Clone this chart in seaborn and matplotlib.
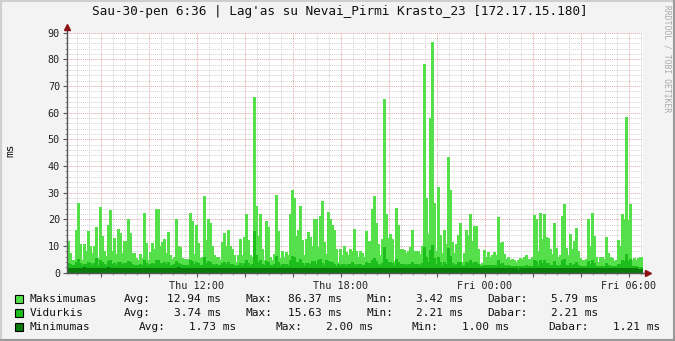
import numpy as np
import pandas as pd
import matplotlib
matplotlib.use("Agg")
import matplotlib.pyplot as plt
import seaborn as sns
from matplotlib.lines import Line2D
from matplotlib.patches import Rectangle

# ---------------- data ----------------
start_hour = 6.6          # Thu 06:36
step_hours = 1 / 12       # 5 minute samples

max_ms = [
    11.9, 7.5, 4.8, 4.8, 15.9, 26.0, 10.6, 4.8, 10.6, 8.0, 15.5, 10.0, 7.5, 10.0, 17.3, 5.6, 24.8, 13.8, 8.0, 6.2, 17.8, 23.4, 8.0, 12.9,
    6.9, 16.5, 15.0, 7.5, 11.9, 11.9, 20.0, 15.0, 7.5, 7.5, 5.6, 4.8, 7.2, 5.6, 22.3, 11.2, 4.8, 7.8, 11.0, 8.8, 23.8, 24.0, 10.2, 11.5,
    12.8, 7.5, 15.2, 6.5, 5.0, 6.0, 20.2, 10.0,
    9.8, 5.6, 5.0, 5.0, 5.0, 22.5, 19.4, 6.9, 18.0, 11.0, 5.6, 6.0, 28.8, 12.2, 20.2, 18.5, 10.0, 6.5, 6.0, 6.0, 4.8, 11.5, 14.8, 10.2,
    16.2, 10.0, 8.8, 6.5, 4.0, 6.5, 12.5, 6.5, 13.5, 22.2, 12.2, 6.5, 6.0, 66.0, 25.2, 13.8, 21.9, 8.8, 4.8, 19.4, 17.2, 6.0, 4.8, 6.9,
    29.0, 15.6, 5.6, 8.1, 6.0, 7.8, 6.5, 21.9, 31.0,
    28.0, 13.8, 16.2, 25.2, 12.2, 6.5, 12.5, 15.2, 13.5, 10.0, 20.0, 20.0, 9.8, 21.2, 26.8, 11.5, 6.9, 22.8, 20.0, 18.0, 16.2, 8.8, 4.0, 9.0,
    6.5, 10.2, 7.8, 6.5, 9.0, 8.1, 16.5, 8.1, 6.0, 8.1, 7.5, 6.0, 15.6, 11.9, 11.9, 23.8, 28.8, 18.8, 10.6, 6.5, 12.8, 65.0, 22.2, 13.1,
    14.4, 12.5, 4.4, 24.4, 18.0, 8.8, 8.8, 8.5, 7.5,
    8.2, 9.8, 16.0, 8.2, 8.2, 8.2, 7.0, 10.0, 78.2, 27.9, 14.5, 57.9, 86.37, 26.2, 8.2, 32.0, 14.1, 7.5, 16.2, 10.8, 43.5, 31.2, 11.6, 7.5,
    10.8, 14.1, 18.5, 4.1, 7.5, 16.0, 14.1, 22.2, 12.0, 17.5, 17.5, 8.8, 3.42, 3.5, 8.5, 5.8, 7.9, 5.8, 6.6, 7.9, 6.6, 20.8, 11.2, 11.6,
    7.0, 5.0, 5.8, 4.8, 5.0, 4.8, 4.1, 4.8, 5.4, 5.0,
    6.0, 6.5, 5.0, 5.0, 6.0, 21.5, 20.0, 8.1, 22.5, 12.5, 22.2, 13.5, 13.1, 9.0, 6.9, 18.8, 9.4, 6.0, 6.5, 21.2, 25.6, 9.4, 6.5, 14.4,
    8.8, 11.9, 16.9, 8.1, 5.6, 4.8, 4.8, 5.0, 20.2, 10.2, 22.5, 13.8, 6.0, 4.0, 6.0, 6.0, 5.0, 13.5, 7.5, 6.0, 5.6, 4.4, 4.8, 12.2,
    10.0, 22.2, 20.0, 58.5, 19.8, 25.6, 4.8, 5.6, 4.8, 5.6, 6.0, 5.79,
]

avg_ms = [
    3.6, 3.2, 2.9, 3.0, 4.1, 5.0, 3.5, 2.8, 3.4, 3.1, 4.0, 3.6, 3.0, 3.5, 5.6, 3.0, 4.8, 4.2, 3.2, 3.0, 4.4, 4.6, 3.1, 3.8,
    3.0, 4.0, 4.1, 3.2, 3.6, 3.5, 4.5, 4.0, 3.1, 3.0, 2.9, 2.8, 3.2, 2.9, 4.6, 3.6, 2.8, 3.1, 3.5, 3.3, 4.8, 4.9, 3.6, 3.7,
    3.9, 3.2, 4.2, 3.0, 2.9, 3.1, 4.4, 3.5, 3.4, 3.0, 2.9, 2.9, 3.0, 4.6, 4.4, 3.1, 4.2, 3.6, 3.0, 3.0, 6.0, 3.7, 4.3, 4.2,
    3.4, 3.0, 3.1, 3.0, 2.8, 3.5, 3.9, 3.4, 4.1, 3.4, 3.2, 3.0, 2.7, 3.0, 3.6, 3.0, 3.8, 4.8, 3.7, 3.0, 3.1, 15.63, 6.5, 4.0,
    4.7, 3.2, 2.8, 4.4, 4.2, 3.0, 2.8, 3.1, 6.2, 3.9, 3.0, 3.3, 3.1, 3.4, 3.0, 4.6, 6.4, 6.0, 3.9, 4.1, 5.2, 3.6, 3.0, 3.6,
    3.8, 3.3, 4.3, 4.5, 3.4, 4.6, 5.3, 3.6, 3.0, 4.8, 4.5, 4.2, 4.0, 3.2, 2.6, 3.2, 3.0, 3.4, 3.1, 3.0, 3.3, 3.2, 4.0, 3.2,
    3.0, 3.2, 3.1, 3.0, 3.0, 3.9, 3.6, 3.6, 4.9, 5.6, 4.3, 3.4, 3.0, 3.8, 9.8, 5.0, 3.9, 4.0, 3.7, 2.8, 5.0, 4.2, 3.2, 3.3,
    3.2, 3.0, 3.1, 3.3, 4.0, 3.1, 3.2, 3.1, 3.0, 3.5, 9.8, 5.8, 4.0, 8.5, 10.4, 5.5, 3.2, 6.0, 3.9, 3.0, 4.1, 3.4, 9.1, 6.2,
    3.6, 3.0, 3.4, 3.9, 4.2, 2.7, 3.0, 4.0, 3.8, 4.9, 3.5, 4.1, 4.2, 3.2, 2.6, 2.6, 3.0, 2.8, 3.0, 2.8, 2.9, 3.0, 2.9, 4.6,
    3.4, 3.5, 3.0, 2.7, 2.8, 2.6, 2.7, 2.6, 2.5, 2.6, 2.7, 2.6, 2.7, 2.8, 2.6, 2.6, 2.7, 4.7, 4.5, 3.0, 4.8, 3.5, 4.6, 3.5,
    3.5, 3.0, 2.8, 4.3, 3.0, 2.7, 2.8, 4.6, 5.2, 3.0, 2.8, 3.8, 3.0, 3.4, 3.9, 3.0, 2.7, 2.6, 2.6, 2.6, 4.4, 3.2, 4.7, 3.6,
    2.7, 2.5, 2.7, 2.6, 2.6, 3.5, 2.9, 2.7, 2.6, 2.5, 2.6, 3.4, 3.1, 4.6, 4.4, 6.9, 4.3, 5.2, 2.6, 2.5, 2.4, 2.3, 2.3, 2.21,
]

min_ms = [
    1.8, 1.7, 1.9, 1.8, 1.6, 1.9, 1.7, 1.8, 2.0, 1.7, 1.6, 1.8, 1.9, 1.7, 1.8, 1.6, 1.9, 1.8, 1.7, 1.8, 2.0, 1.7, 1.6, 1.8,
    1.7, 1.9, 1.8, 1.6, 1.8, 1.7, 1.9, 1.8, 1.7, 1.6, 1.8, 1.9, 1.7, 1.8, 1.6, 1.7, 1.9, 1.8, 1.7, 1.8, 1.6, 1.9, 1.7, 1.8,
    1.8, 1.7, 1.9, 1.6, 1.8, 1.7, 1.8, 2.0, 1.7, 1.8, 1.6, 1.7, 1.9, 1.8, 1.7, 1.8, 1.6, 1.9, 1.8, 1.7, 1.8, 1.6, 1.7, 1.9,
    1.7, 1.8, 1.6, 1.9, 1.8, 1.7, 1.8, 1.7, 1.9, 1.6, 1.8, 1.7, 1.8, 1.9, 1.7, 1.6, 1.8, 1.7, 1.9, 1.8, 1.7, 1.8, 1.6, 1.7,
    1.8, 1.9, 1.7, 1.6, 1.8, 1.7, 1.9, 1.8, 1.7, 1.8, 1.6, 1.7, 1.9, 1.8, 1.7, 1.6, 1.8, 1.9, 1.7, 1.8, 1.6, 1.7, 1.8, 1.9,
    1.7, 1.8, 1.6, 1.9, 1.8, 1.7, 1.8, 1.6, 1.7, 1.9, 1.8, 1.7, 1.6, 1.8, 1.7, 1.9, 1.8, 1.7, 1.6, 1.8, 1.7, 1.9, 1.8, 1.7,
    1.6, 1.8, 1.7, 1.9, 1.8, 1.6, 1.7, 1.8, 1.9, 1.7, 1.8, 1.6, 1.7, 1.8, 1.9, 1.7, 1.8, 1.6, 1.8, 1.7, 1.9, 1.8, 1.7, 1.6,
    1.8, 1.7, 1.9, 1.8, 1.6, 1.7, 1.8, 1.9, 1.7, 1.8, 1.6, 1.7, 1.9, 1.8, 1.7, 1.6, 1.8, 1.7, 1.9, 1.8, 1.7, 1.6, 1.8, 1.7,
    1.9, 1.8, 1.7, 1.6, 1.8, 1.7, 1.9, 1.8, 1.7, 1.6, 1.8, 1.7, 1.9, 1.8, 1.6, 1.7, 1.8, 1.9, 1.7, 1.6, 1.8, 1.7, 1.8, 1.9,
    1.7, 1.6, 1.8, 1.7, 1.9, 1.8, 1.6, 1.7, 1.8, 1.0, 1.7, 1.8, 1.6, 1.7, 1.9, 1.8, 1.7, 1.6, 1.8, 1.7, 1.9, 1.8, 1.7, 1.6,
    1.8, 1.7, 1.9, 1.8, 1.6, 1.7, 1.8, 1.9, 1.7, 1.6, 1.8, 1.7, 1.9, 1.8, 1.7, 1.6, 1.8, 1.7, 1.9, 1.8, 1.6, 1.7, 1.8, 1.7,
    1.6, 1.8, 1.7, 1.9, 1.8, 1.7, 1.6, 1.8, 1.7, 1.9, 1.8, 1.7, 1.6, 1.8, 1.9, 1.7, 1.8, 1.6, 1.7, 1.8, 1.6, 1.5, 1.4, 1.21,
]

tick_hours = [12, 18, 24, 30]
tick_labels = ["Thu 12:00", "Thu 18:00", "Fri 00:00", "Fri 06:00"]

title = "Sau-30-pen 6:36 | Lag'as su Nevai_Pirmi Krasto_23 [172.17.15.180]"
series_names = ["Maksimumas", "Vidurkis", "Minimumas"]
stat_avg = ["12.94 ms", "3.74 ms", "1.73 ms"]
stat_max = ["86.37 ms", "15.63 ms", "2.00 ms"]
stat_min = ["3.42 ms", "2.21 ms", "1.00 ms"]
stat_cur = ["5.79 ms", "2.21 ms", "1.21 ms"]

colors = ["#55E04B", "#1CBE1C", "#0A7A0A"]

# ---------------- figure ----------------
sns.set_theme(style="white")
plt.rcParams["font.family"] = ["DejaVu Sans Mono"]

W, H = 675, 341
fig = plt.figure(figsize=(W / 100, H / 100), dpi=100, facecolor="#F3F3F3")
ax = fig.add_axes([67 / W, 68.3 / H, 576 / W, 240 / H])
ax.set_facecolor("white")

n = len(max_ms)
df = pd.DataFrame({"k": np.arange(n), "max": max_ms, "avg": avg_ms, "min": min_ms})
for col, c in zip(["max", "avg", "min"], colors):
    sns.barplot(data=df, x="k", y=col, color=c, saturation=1, width=1.0,
                linewidth=0, errorbar=None, ax=ax)
for p in ax.patches:
    p.set_antialiased(False)
    p.set_edgecolor(p.get_facecolor())
    p.set_linewidth(0.4)


def pos(h):
    return (h - start_hour) / step_hours - 0.5


ax.set_xlim(pos(start_hour), pos(start_hour + 24))
ax.set_ylim(0, 90)

major_h = np.arange(8, 31, 2)
minor_h = np.arange(7, 30.6, 0.5)
ax.set_xticks([pos(h) for h in major_h])
ax.set_xticklabels([tick_labels[tick_hours.index(h)] if h in tick_hours else "" for h in major_h])
ax.set_xticks([pos(h) for h in minor_h], minor=True)
ax.set_yticks(np.arange(0, 91, 10))
ax.set_yticks(np.arange(0, 91, 2), minor=True)
ax.set_xlabel("")
ax.set_ylabel("")

ax.set_axisbelow(True)
ax.grid(which="minor", color="#D2D2D2", linestyle=(0, (1, 1)), linewidth=0.7)
ax.grid(which="major", color="#E6A2A2", linestyle=(0, (1, 1)), linewidth=0.7)

ax.tick_params(axis="both", which="major", labelsize=7.3, length=3, width=0.8,
               color="#555555", labelcolor="#222222", direction="out", pad=2)
ax.tick_params(axis="both", which="minor", length=1.5, width=0.6, color="#888888", direction="out")
ax.tick_params(axis="x", which="major", pad=3)
ax.tick_params(axis="x", which="both", bottom=True)
ax.tick_params(axis="y", which="both", left=True)

for s in ["top", "right"]:
    ax.spines[s].set_visible(False)
for s in ["left", "bottom"]:
    ax.spines[s].set_color("#555555")
    ax.spines[s].set_linewidth(1.0)

# axis extensions and arrows
ax.plot([0, 0], [1.0, 1.025], transform=ax.transAxes, color="#555555", lw=1.0, clip_on=False)
ax.plot([0], [1.025], transform=ax.transAxes, marker="^", ms=4.5, color="#8B1010", clip_on=False)
ax.plot([1.0, 1.008], [0, 0], transform=ax.transAxes, color="#555555", lw=1.0, clip_on=False)
ax.plot([1.008], [0], transform=ax.transAxes, marker=">", ms=4.5, color="#8B1010", clip_on=False)

# title, y label, watermark
fig.text(340 / W, 1 - 12 / H, title, ha="center", va="center", fontsize=9.2, color="#111111")
fig.text(10 / W, 1 - 150 / H, "ms", rotation=90, ha="center", va="center", fontsize=8, color="#111111")
fig.text(667 / W, 1 - 5 / H, "RRDTOOL / TOBI OETIKER", rotation=270, ha="center", va="top",
         fontsize=5.8, color="#AAAAAA")

# legend
rows_y = [299, 313, 327]
col_x = [
    (124, 221, 245, 342, 366, 463, 487, 598),
    (124, 221, 245, 342, 366, 463, 487, 598),
    (139, 236, 275, 373, 412, 509, 548, 660),
]
fs = 8
for i in range(3):
    y = 1 - rows_y[i] / H
    fig.add_artist(Rectangle((15 / W, y - 4 / H), 8 / W, 8 / H, transform=fig.transFigure,
                             facecolor=colors[i], edgecolor="black", linewidth=0.8))
    fig.text(30 / W, y, series_names[i], ha="left", va="center", fontsize=fs, color="#111111")
    ax_, av_, mx_, mxv, mn_, mnv, db_, dbv = col_x[i]
    fig.text(ax_ / W, y, "Avg:", ha="left", va="center", fontsize=fs, color="#111111")
    fig.text(av_ / W, y, stat_avg[i], ha="right", va="center", fontsize=fs, color="#111111")
    fig.text(mx_ / W, y, "Max:", ha="left", va="center", fontsize=fs, color="#111111")
    fig.text(mxv / W, y, stat_max[i], ha="right", va="center", fontsize=fs, color="#111111")
    fig.text(mn_ / W, y, "Min:", ha="left", va="center", fontsize=fs, color="#111111")
    fig.text(mnv / W, y, stat_min[i], ha="right", va="center", fontsize=fs, color="#111111")
    fig.text(db_ / W, y, "Dabar:", ha="left", va="center", fontsize=fs, color="#111111")
    fig.text(dbv / W, y, stat_cur[i], ha="right", va="center", fontsize=fs, color="#111111")

# outer 3D-style frame
fig.add_artist(Line2D([1 / W, 1 / W], [0, 1], transform=fig.transFigure, color="#CFCFCF", lw=1.5))
fig.add_artist(Line2D([0, 1], [1 - 1 / H, 1 - 1 / H], transform=fig.transFigure, color="#CFCFCF", lw=1.5))
fig.add_artist(Line2D([1 - 1 / W, 1 - 1 / W], [0, 1], transform=fig.transFigure, color="#9A9A9A", lw=1.5))
fig.add_artist(Line2D([0, 1], [1 / H, 1 / H], transform=fig.transFigure, color="#9A9A9A", lw=1.5))

fig.savefig("out.png", dpi=100, facecolor=fig.get_facecolor())
